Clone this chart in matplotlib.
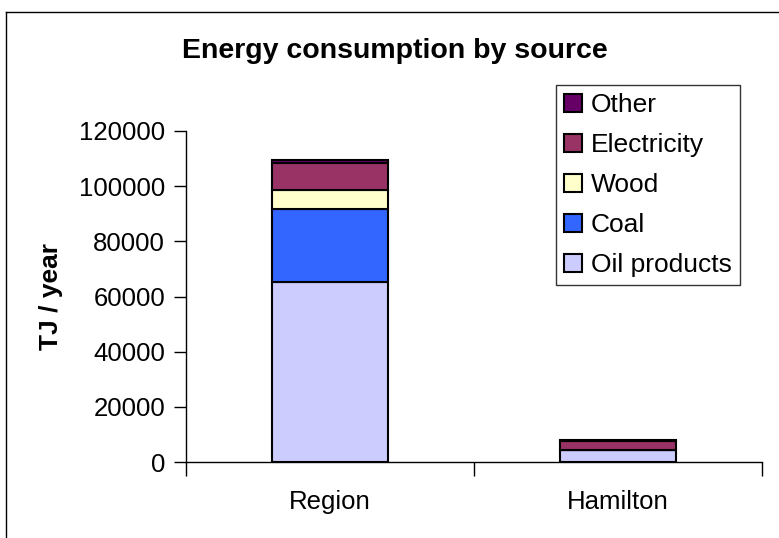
import numpy as np
import matplotlib.pyplot as plt
from matplotlib.lines import Line2D

plt.rcParams["font.family"] = ["Liberation Sans", "DejaVu Sans"]

# Data
categories = ["Region", "Hamilton"]
sources = ["Oil products", "Coal", "Wood", "Electricity", "Other"]
oil_products = [65200, 4300]
coal = [26500, 0]
wood = [6900, 0]
electricity = [9800, 3300]
other = [1000, 500]
values = [oil_products, coal, wood, electricity, other]
colors = ["#ccccff", "#3366ff", "#ffffcc", "#993366", "#660066"]

fig = plt.figure(figsize=(7.79, 5.38), dpi=100)
ax = fig.add_axes([186 / 779, 1 - 462 / 538, 576 / 779, 331 / 538])

x = np.arange(len(categories))
bottom = np.zeros(len(categories))
for name, vals, col in zip(sources, values, colors):
    ax.bar(x, vals, width=0.40, bottom=bottom, color=col,
           edgecolor="black", linewidth=1.5, label=name)
    bottom += np.array(vals)

ax.set_xlim(-0.5, 1.5)
ax.set_ylim(0, 120000)
ax.set_yticks(np.arange(0, 120001, 20000))
ax.set_xticks(x)
ax.set_xticklabels(categories)
ax.set_xticks([-0.5, 0.5, 1.5], minor=True)
ax.tick_params(axis="y", labelsize=18.5, length=9, width=1, pad=6)
ax.tick_params(axis="x", which="major", labelsize=18.5, length=0, pad=20)
ax.tick_params(axis="x", which="minor", length=10, width=1)

for side in ["top", "right"]:
    ax.spines[side].set_visible(False)
for side in ["left", "bottom"]:
    ax.spines[side].set_color("black")
    ax.spines[side].set_linewidth(1)

ax.set_ylabel("TJ / year", fontsize=19, fontweight="bold")
ax.yaxis.set_label_coords(-0.2135, 0.5)

fig.text(395 / 779, 1 - 51 / 538, "Energy consumption by source",
         ha="center", va="center", fontsize=20.5, fontweight="bold")

# Legend (reverse order, top = Other)
handles, labels = ax.get_legend_handles_labels()
leg = fig.legend(handles[::-1], labels[::-1], loc="upper left",
                 bbox_to_anchor=(556 / 779, 1 - 85 / 538),
                 fontsize=19, frameon=True, fancybox=False,
                 edgecolor="black", handlelength=0.68, handleheight=0.68,
                 handletextpad=0.35, labelspacing=0.61, borderpad=0.3,
                 borderaxespad=0)
leg.get_frame().set_linewidth(1.0)

# Chart area border (left and top visible)
fig.add_artist(Line2D([6 / 779, 6 / 779], [0, 1 - 12 / 538], color="black", linewidth=1))
fig.add_artist(Line2D([6 / 779, 1], [1 - 12 / 538, 1 - 12 / 538], color="black", linewidth=1))

plt.savefig("out.png", dpi=100)
